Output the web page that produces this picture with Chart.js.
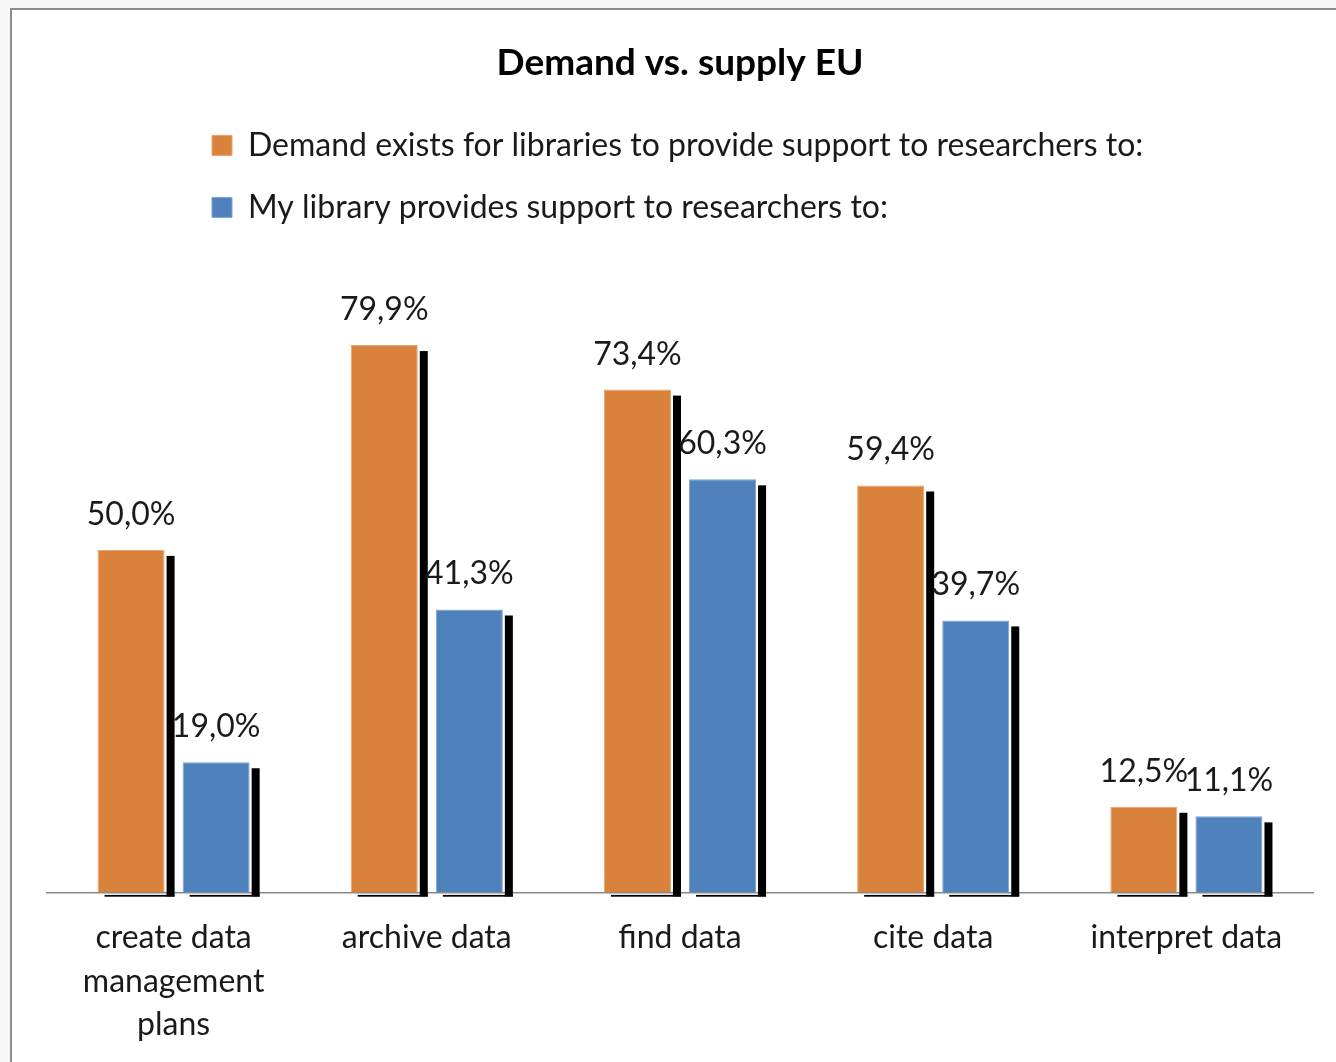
<!DOCTYPE html>
<html>
<head>
<meta charset="utf-8">
<script src="https://cdn.jsdelivr.net/npm/chart.js@4.4.0/dist/chart.umd.min.js"></script>
<style>
  body { margin: 0; background: #f7f7f7; }
  #frame {
    position: absolute; left: 10px; top: 8px;
    width: 1324px; height: 1052px; background: #fff;
    border-left: 2px solid #8c8c8c; border-top: 2px solid #8c8c8c;
  }
</style>
</head>
<body>
<div id="frame"><canvas id="myChart" width="1324" height="1052"></canvas></div>
<script>
    // chart values
    const CATEGORIES = [
      ['create data', 'management', 'plans'],
      'archive data',
      'find data',
      'cite data',
      'interpret data'
    ]
    const DEMAND = [50.0, 79.9, 73.4, 59.4, 12.5]
    const SUPPLY = [19.0, 41.3, 60.3, 39.7, 11.1]
    const SERIES_NAMES = [
      'Demand exists for libraries to provide support to researchers to:',
      'My library provides support to researchers to:'
    ]
    const TITLE = 'Demand vs. supply EU'

    const FONT = 'Lato'
    const TEXT = '#1a1a1a'

    // black drop shadow on the right and bottom of every bar
    var shadowPlugin = {
      id: 'barShadow',
      beforeDatasetsDraw: function(chart) {
        var ctx = chart.ctx
        ctx.save()
        ctx.fillStyle = '#000'
        chart.data.datasets.forEach(function(ds, i) {
          chart.getDatasetMeta(i).data.forEach(function(bar) {
            var p = bar.getProps(['x', 'y', 'base', 'width'], true)
            var right = p.x + p.width / 2
            var left = p.x - p.width / 2
            ctx.fillRect(right + 2, p.y + 6, 8, p.base - p.y - 2)
            ctx.fillRect(left + 7, p.base + 2.5, p.width + 3, 1.8)
          })
        })
        ctx.restore()
      }
    }

    // value labels above the bars, with a comma as decimal mark
    var labelPlugin = {
      id: 'barLabels',
      afterDatasetsDraw: function(chart) {
        var ctx = chart.ctx
        ctx.save()
        ctx.font = '32px ' + FONT
        ctx.fillStyle = TEXT
        ctx.textAlign = 'center'
        ctx.textBaseline = 'alphabetic'
        chart.data.datasets.forEach(function(ds, i) {
          chart.getDatasetMeta(i).data.forEach(function(bar, j) {
            var txt = ds.data[j].toFixed(1).replace('.', ',') + '%'
            ctx.fillText(txt, bar.x, bar.y - 25)
          })
        })
        ctx.restore()
      }
    }

    // push the stacked legend rows to the same left edge as the reference
    var legendShift = {
      id: 'legendShift',
      afterLayout: function(chart) {
        chart.legend.left = 200 - chart.options.plugins.legend.labels.padding
      }
    }

    var ctx = document.getElementById('myChart').getContext('2d')
    var chart = new Chart(ctx, {
      type: 'bar',
      data: {
        labels: CATEGORIES,
        datasets: [{
          label: SERIES_NAMES[0],
          data: DEMAND,
          backgroundColor: '#d9823c',
          borderColor: '#e9a36e',
          borderWidth: 1,
          categoryPercentage: 0.672,
          barPercentage: 0.788
        }, {
          label: SERIES_NAMES[1],
          data: SUPPLY,
          backgroundColor: '#4f81bd',
          borderColor: '#7fa3d0',
          borderWidth: 1,
          categoryPercentage: 0.672,
          barPercentage: 0.788
        }]
      },
      options: {
        responsive: false,
        animation: false,
        layout: { padding: { left: 35, right: 23, top: 0, bottom: 0 } },
        plugins: {
          title: {
            display: true,
            text: TITLE,
            color: '#000',
            font: { family: FONT, size: 37, weight: 'bold' },
            padding: { top: 31, bottom: 14 }
          },
          legend: {
            display: true,
            position: 'top',
            align: 'start',
            labels: {
              color: TEXT,
              font: { family: FONT, size: 32 },
              boxWidth: 20,
              boxHeight: 20,
              padding: 30
            }
          },
          tooltip: { enabled: false }
        },
        scales: {
          x: {
            grid: { display: false },
            border: { display: true, color: '#8a8a8a', width: 1.5 },
            ticks: { color: TEXT, font: { family: FONT, size: 32, lineHeight: 1.35 }, padding: 16, maxRotation: 0 }
          },
          y: {
            display: false,
            min: 0,
            max: 96.2
          }
        }
      },
      plugins: [shadowPlugin, labelPlugin, legendShift]
    })
</script>
</body>
</html>
